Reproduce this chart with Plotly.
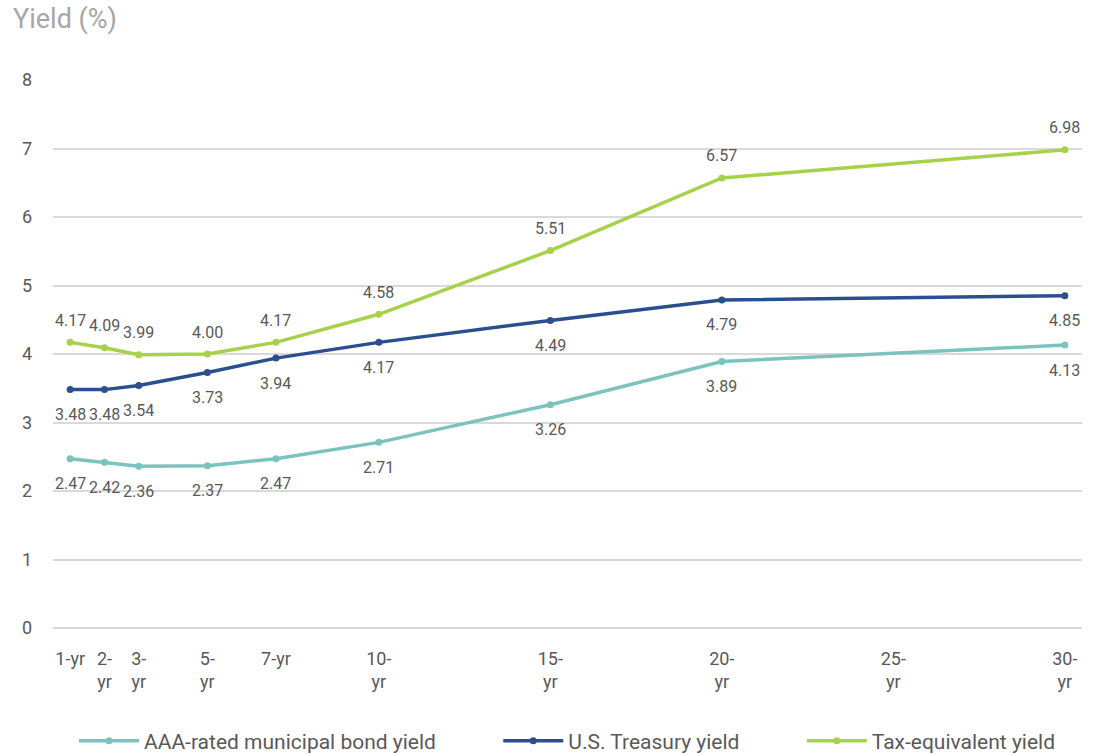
import plotly.graph_objects as go

maturity_years = [1, 2, 3, 5, 7, 10, 15, 20, 30]
tick_years = [1, 2, 3, 5, 7, 10, 15, 20, 25, 30]
tick_labels = ["1-yr", "2-<br>yr", "3-<br>yr", "5-<br>yr", "7-yr", "10-<br>yr",
               "15-<br>yr", "20-<br>yr", "25-<br>yr", "30-<br>yr"]

muni_yield = [2.47, 2.42, 2.36, 2.37, 2.47, 2.71, 3.26, 3.89, 4.13]
treasury_yield = [3.48, 3.48, 3.54, 3.73, 3.94, 4.17, 4.49, 4.79, 4.85]
tax_equiv_yield = [4.17, 4.09, 3.99, 4.00, 4.17, 4.58, 5.51, 6.57, 6.98]

series = [
    ("AAA-rated municipal bond yield", muni_yield, "#7bc3bf", -25),
    ("U.S. Treasury yield", treasury_yield, "#2b4f8e", -25),
    ("Tax-equivalent yield", tax_equiv_yield, "#a6d24b", 22),
]

FONT = "Roboto"
TXT = "#595959"
PAD = "\u00a0" * 11

fig = go.Figure()
annotations = []
for i, (name, vals, color, shift) in enumerate(series):
    fig.add_trace(go.Scatter(
        x=maturity_years, y=vals, name=name + (PAD if i < len(series) - 1 else ""),
        mode="lines+markers",
        line=dict(color=color, width=3.5),
        marker=dict(color=color, size=7),
        hoverinfo="skip",
    ))
    for xv, yv in zip(maturity_years, vals):
        annotations.append(dict(
            x=xv, y=yv, xref="x", yref="y", text=f"{yv:.2f}", showarrow=False,
            yshift=shift, font=dict(family=FONT, size=16, color=TXT),
        ))

annotations.append(dict(
    x=-42 / 1029, y=1 + (80 - 19) / 548, xref="paper", yref="paper",
    text="Yield (%)", showarrow=False, xanchor="left", yanchor="middle",
    font=dict(family=FONT, size=27, color="#a6a6a6"),
))

fig.update_layout(
    width=1097, height=754,
    margin=dict(l=53, r=15, t=80, b=126, autoexpand=False),
    paper_bgcolor="white", plot_bgcolor="white",
    font=dict(family=FONT, color=TXT),
    annotations=annotations,
    showlegend=True,
    legend=dict(
        orientation="h", x=0.5, xanchor="center",
        yref="container", y=1 - 741 / 754, yanchor="middle",
        font=dict(family=FONT, size=21, color=TXT),
        itemwidth=60,
    ),
    xaxis=dict(
        range=[0.5, 30.5], tickvals=tick_years, ticktext=tick_labels,
        showgrid=False, zeroline=False, showline=False, ticks="",
        tickfont=dict(family=FONT, size=18, color=TXT),
        ticklabelstandoff=18,
    ),
    yaxis=dict(
        range=[0, 8], dtick=1, showgrid=True, gridcolor="#d9d9d9", gridwidth=2,
        zeroline=True, zerolinecolor="#d9d9d9", zerolinewidth=2,
        showline=False, ticks="",
        tickfont=dict(family=FONT, size=18, color=TXT),
        ticklabelstandoff=20,
    ),
)

fig.write_html("out.html")
